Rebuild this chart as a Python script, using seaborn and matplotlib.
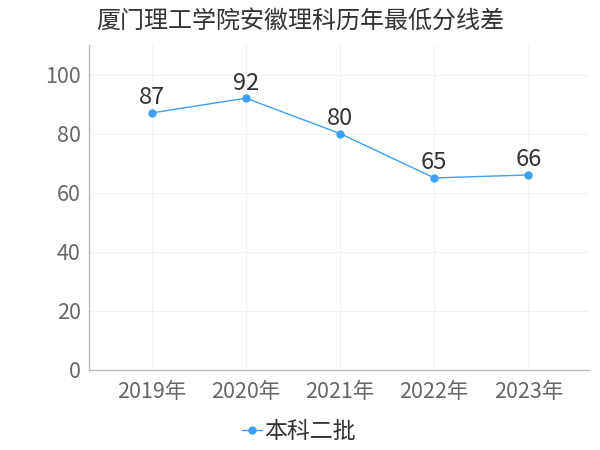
import seaborn as sns
import pandas as pd
from matplotlib import pyplot as plt

years = ['2019年', '2020年', '2021年', '2022年', '2023年']
scores = [87, 92, 80, 65, 66]
series_name = '本科二批'
title = '厦门理工学院安徽理科历年最低分线差'

sns.set_style('white')
plt.rcParams['font.family'] = ['Noto Sans CJK SC', 'DejaVu Sans']

df = pd.DataFrame({'year': years, 'score': scores})

fig = plt.figure(figsize=(6, 4.5), dpi=100)
ax = fig.add_axes([0.148, 0.178, 0.833, 0.722])

line_color = '#3da0f5'
sns.lineplot(data=df, x='year', y='score', ax=ax, color=line_color, linewidth=1,
             marker='o', markersize=6, markeredgewidth=0, label=series_name, sort=False)

for i, v in enumerate(scores):
    ax.text(i, v + 1.2, str(v), ha='center', va='bottom', fontsize=17, color='#333333')

ax.set_xlim(-0.67, 4.64)
ax.set_ylim(0, 110)
ax.set_yticks([0, 20, 40, 60, 80, 100])
ax.set_xlabel('')
ax.set_ylabel('')
ax.grid(True, color='#f2f2f2', linewidth=0.8)
for s in ['top', 'right']:
    ax.spines[s].set_visible(False)
for s in ['left', 'bottom']:
    ax.spines[s].set_color('#bbbbbb')
    ax.spines[s].set_linewidth(1)
ax.tick_params(axis='both', labelsize=15.5, colors='#666666', length=4, color='#bbbbbb')
ax.tick_params(axis='y', length=0, pad=6)
ax.tick_params(axis='x', pad=4)

fig.text(0.16, 0.955, title, fontsize=17.3, color='#333333', ha='left', va='center')

ax.legend(loc='center', bbox_to_anchor=(0.42, -0.19), frameon=False, fontsize=16.5,
          handlelength=0.9, handletextpad=0.1, labelcolor='#333333',
          borderpad=0, borderaxespad=0)

fig.savefig('out.png', dpi=100)
